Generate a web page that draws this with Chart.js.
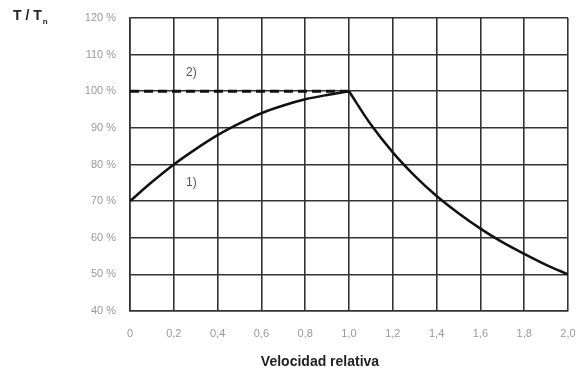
<!DOCTYPE html>
<html>
<head>
<meta charset="utf-8">
<script src="https://cdn.jsdelivr.net/npm/chart.js@4"></script>
<style>
  html, body { margin: 0; padding: 0; background: #fff; }
  #wrap { width: 587px; height: 374px; }
</style>
</head>
<body>
<div id="wrap"><canvas id="chart" width="587" height="374"></canvas></div>
<script>
// Curve 1): relative torque vs relative speed (read from picture)
// rising part up to rated speed
const speedsUp = [0, 0.1, 0.2, 0.3, 0.4, 0.5, 0.6, 0.7, 0.8, 0.9, 1.0];
const torqueUp = [70, 75.2, 80, 84.2, 88, 91.2, 94, 96.1, 97.8, 99, 100];
// falling part above rated speed
const speedsDown = [1.0, 1.1, 1.2, 1.3, 1.4, 1.5, 1.6, 1.7, 1.8, 1.9, 2.0];
const torqueDown = [100, 90.9, 83.3, 76.9, 71.4, 66.7, 62.5, 58.8, 55.6, 52.6, 50];
// Curve 2): dashed constant line
const speeds2 = [0, 1.0];
const torque2 = [100, 100];
const xTicks = [0, 0.2, 0.4, 0.6, 0.8, 1.0, 1.2, 1.4, 1.6, 1.8, 2.0];
const yTicks = [40, 50, 60, 70, 80, 90, 100, 110, 120];

const gridColor = "#333";
const tickColor = "#999";
const font = "'Liberation Sans', Arial, sans-serif";

// Extra text: axis titles and curve labels
const annotations = {
    id: "annotations",
    afterDraw(chart) {
        const ctx = chart.ctx;
        const x = chart.scales.x, y = chart.scales.y;
        ctx.save();
        ctx.fillStyle = "#222";
        ctx.font = "bold 14px " + font;
        ctx.textBaseline = "middle";
        ctx.textAlign = "left";
        ctx.fillText("T / T", 13, 16);
        const w = ctx.measureText("T / T").width;
        ctx.font = "bold 8px " + font;
        ctx.fillText("n", 13 + w + 1, 22);

        ctx.font = "bold 14px " + font;
        ctx.textAlign = "center";
        ctx.fillText("Velocidad relativa", 320, 362);

        ctx.fillStyle = "#555";
        ctx.font = "12px " + font;
        ctx.fillText("2)", x.getPixelForValue(0.28), y.getPixelForValue(105));
        ctx.fillText("1)", x.getPixelForValue(0.28), y.getPixelForValue(75));
        ctx.restore();
    }
};

const lineStyle = {
    showLine: true,
    borderColor: "#111",
    borderWidth: 2.5,
    pointRadius: 0,
    cubicInterpolationMode: "monotone"
};

// drop the automatic label overflow padding so layout padding decides
function noPad(axis) {
    axis.paddingLeft = 0;
    axis.paddingRight = 0;
    axis.paddingTop = 0;
    axis.paddingBottom = 0;
}

new Chart(document.getElementById("chart"), {
    type: "scatter",
    data: {
        datasets: [
            Object.assign({ data: speedsUp.map((s, i) => ({ x: s, y: torqueUp[i] })) }, lineStyle),
            Object.assign({ data: speedsDown.map((s, i) => ({ x: s, y: torqueDown[i] })) }, lineStyle),
            {
                data: speeds2.map((s, i) => ({ x: s, y: torque2[i] })),
                showLine: true,
                borderColor: "#111",
                borderWidth: 3,
                borderDash: [9, 5],
                pointRadius: 0
            }
        ]
    },
    options: {
        responsive: false,
        animation: false,
        layout: { padding: { top: 18, right: 19, left: 0, bottom: 0 } },
        plugins: { legend: { display: false }, tooltip: { enabled: false } },
        scales: {
            x: {
                type: "linear",
                min: 0,
                max: 2.0,
                afterBuildTicks: axis => { axis.ticks = xTicks.map(v => ({ value: v })); },
                afterFit: axis => { axis.height = 63; noPad(axis); },
                grid: { color: gridColor, lineWidth: 1.6, drawTicks: false },
                border: { color: gridColor, width: 1.6 },
                ticks: {
                    color: tickColor,
                    padding: 16,
                    font: { family: font, size: 11 },
                    callback: v => v === 0 ? "0" : v.toFixed(1).replace(".", ",")
                }
            },
            y: {
                min: 40,
                max: 120,
                afterBuildTicks: axis => { axis.ticks = yTicks.map(v => ({ value: v })); },
                afterFit: axis => { axis.width = 130; noPad(axis); },
                grid: { color: gridColor, lineWidth: 1.6, drawTicks: false },
                border: { color: gridColor, width: 1.6 },
                ticks: {
                    color: tickColor,
                    padding: 14,
                    font: { family: font, size: 11 },
                    callback: v => v + " %"
                }
            }
        }
    },
    plugins: [annotations]
});
</script>
</body>
</html>
